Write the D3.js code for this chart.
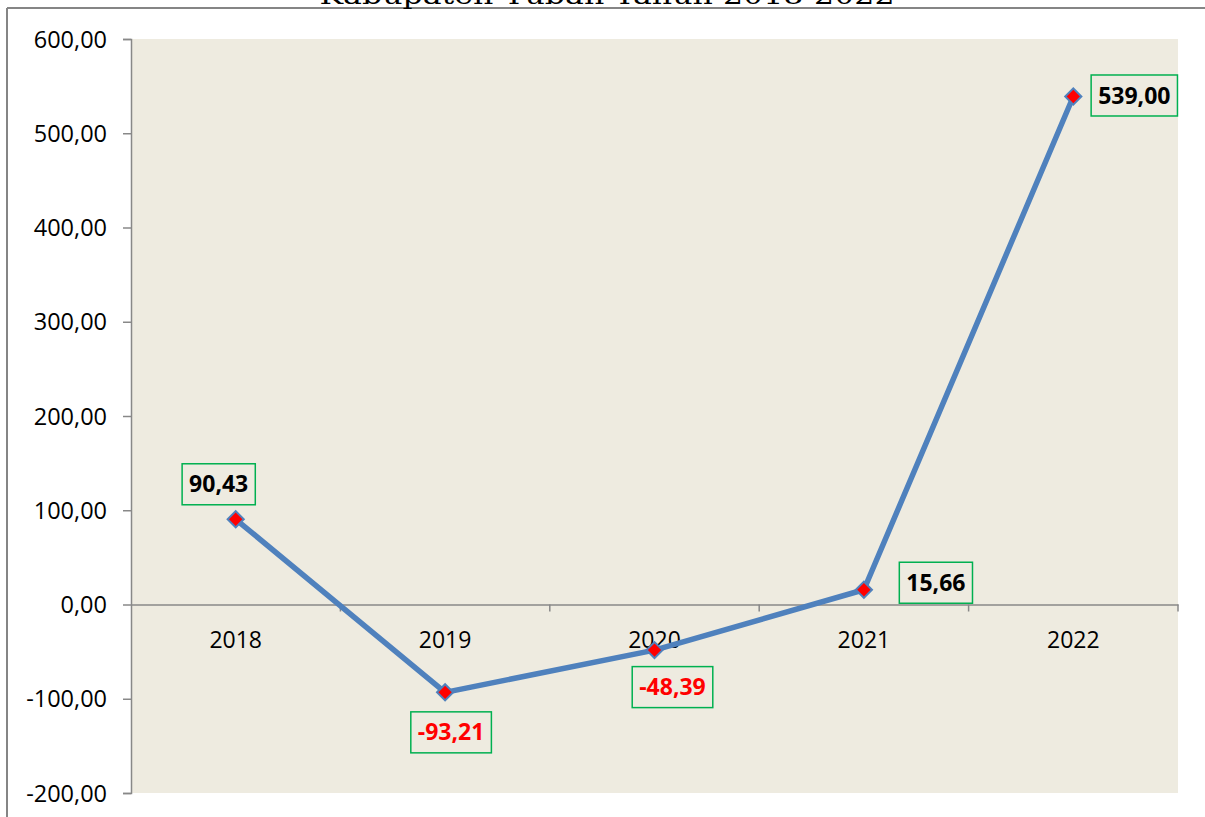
<!DOCTYPE html>
<html><head><meta charset="utf-8">
<script src="https://cdn.jsdelivr.net/npm/d3@7"></script>
<style>html,body{margin:0;padding:0;background:#fff;overflow:hidden}</style>
</head><body>
<svg id="chart" width="1205" height="817"></svg>
<script>
const title = "Kabupaten Tuban Tahun 2018-2022";
const years = ["2018", "2019", "2020", "2021", "2022"];
const values = [90.43, -93.21, -48.39, 15.66, 539.00];
const yTicks = [-200, -100, 0, 100, 200, 300, 400, 500, 600];

// label placement offsets (layout, not data)
const labelOffsets = [[-17, -35], [6, 40], [18, 37], [72, -7], [61, -1]];

const svg = d3.select("#chart");
const W = 1205, H = 817;
const m = {left: 131, right: 1178, top: 39, bottom: 793};
const fmt = v => d3.format(".2f")(v).replace(".", ",").replace("−", "-");

const x = d3.scaleBand().domain(years).range([m.left, m.right]).padding(0);
const y = d3.scaleLinear().domain([-200, 600]).range([m.bottom, m.top]);

// outer frame
svg.append("line").attr("x1", 7).attr("x2", W).attr("y1", 8).attr("y2", 8)
  .attr("stroke", "#858585").attr("stroke-width", 2);
svg.append("line").attr("x1", 7).attr("x2", 7).attr("y1", 8).attr("y2", H)
  .attr("stroke", "#858585").attr("stroke-width", 2);

// title (cut off at top, as in the reference)
svg.append("text").attr("x", 607).attr("y", 4).attr("text-anchor", "middle")
  .attr("font-family", "DejaVu Serif, serif").attr("font-size", 26)
  .attr("textLength", 575).attr("lengthAdjust", "spacingAndGlyphs")
  .attr("fill", "#000").text(title);

// plot background
svg.append("rect").attr("x", m.left).attr("y", m.top)
  .attr("width", m.right - m.left).attr("height", m.bottom - m.top)
  .attr("fill", "#EEEBE0");

// y axis
const yAxis = d3.axisLeft(y).tickValues(yTicks).tickSize(8).tickPadding(16).tickFormat(fmt);
const gy = svg.append("g").attr("transform", `translate(${m.left},0)`).call(yAxis);
gy.select(".domain").attr("stroke", "#888").attr("stroke-width", 1.5);
gy.selectAll(".tick line").attr("stroke", "#888").attr("stroke-width", 1.5);
gy.selectAll(".tick text").attr("font-family", "Open Sans, sans-serif").attr("font-size", 23.5)
  .attr("fill", "#000").attr("dy", "0.35em");

// x axis at zero
const xAxis = d3.axisBottom(x).tickSize(0).tickPadding(35);
const gx = svg.append("g").attr("transform", `translate(0,${y(0)})`).call(xAxis);
gx.select(".domain").attr("stroke", "#888").attr("stroke-width", 1.5);
gx.selectAll(".tick text").attr("font-family", "Open Sans, sans-serif").attr("font-size", 23)
  .attr("fill", "#000").attr("dy", "0.35em");
// boundary ticks
const bounds = years.map(d => x(d) + x.bandwidth());
svg.append("g").selectAll("line").data(bounds).join("line")
  .attr("x1", d => d).attr("x2", d => d).attr("y1", y(0)).attr("y2", y(0) + 7)
  .attr("stroke", "#888").attr("stroke-width", 1.5);

const cx = i => x(years[i]) + x.bandwidth() / 2;
const pts = values.map((v, i) => [cx(i), y(v)]);

// line
svg.append("path").datum(pts)
  .attr("d", d3.line())
  .attr("fill", "none").attr("stroke", "#4F81BD").attr("stroke-width", 5.5)
  .attr("stroke-linejoin", "round");

// markers
svg.append("g").selectAll("path").data(pts).join("path")
  .attr("transform", d => `translate(${d[0]},${d[1]}) rotate(45)`)
  .attr("d", d3.symbol().type(d3.symbolSquare).size(130))
  .attr("fill", "#FF0000").attr("stroke", "#4F81BD").attr("stroke-width", 2);

// labels
const lg = svg.append("g");
values.forEach((v, i) => {
  const [px, py] = pts[i];
  const lx = px + labelOffsets[i][0], ly = py + labelOffsets[i][1];
  const t = lg.append("text").attr("x", lx).attr("y", ly).attr("text-anchor", "middle")
    .attr("dy", "0.35em").attr("font-family", "Open Sans, sans-serif").attr("font-weight", "bold")
    .attr("font-size", 23).attr("fill", v < 0 ? "#FF0000" : "#000").text(fmt(v));
  const bb = t.node().getBBox();
  lg.insert("rect", "text").attr("x", bb.x - 7).attr("y", ly - 20.5)
    .attr("width", bb.width + 14).attr("height", 41)
    .attr("fill", "none").attr("stroke", "#00B050").attr("stroke-width", 1.5);
});
</script>
</body></html>
